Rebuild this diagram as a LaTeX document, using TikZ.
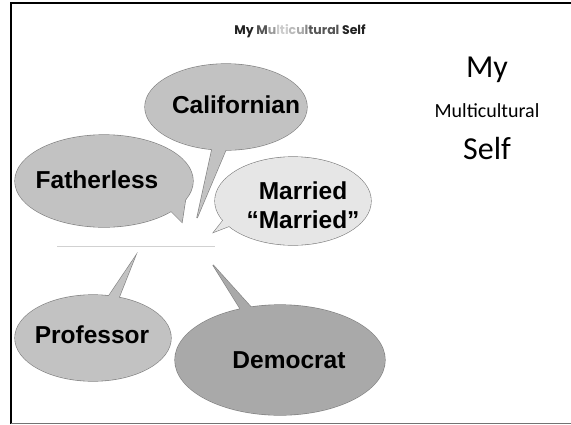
\documentclass[tikz,border=0pt]{standalone}
\usepackage{fontspec}
\setmainfont{Liberation Sans}
\newfontfamily\calibrifont{Carlito}
\newfontfamily\titlefont{Poppins}
\definecolor{bubmid}{HTML}{C2C2C2}
\definecolor{bublight}{HTML}{E6E6E6}
\definecolor{bubdark}{HTML}{A9A9A9}
\definecolor{bubline}{HTML}{7F7F7F}
\definecolor{tA}{HTML}{222222}
\definecolor{tB}{HTML}{555555}
\definecolor{tC}{HTML}{999999}
\definecolor{tD}{HTML}{CCCCCC}
\definecolor{tE}{HTML}{BBBBBB}
\definecolor{tF}{HTML}{AAAAAA}
\definecolor{tG}{HTML}{888888}
\newcommand\mycallout[7]{%
  \draw[bubline, line width=1.2pt, line join=round] #2 ellipse [x radius=#3, y radius=#4];
  \draw[bubline, line width=1.2pt, line join=miter] #5 -- #7 -- #6 -- cycle;
  \fill[#1] #2 ellipse [x radius=#3, y radius=#4];
  \fill[#1] #5 -- #7 -- #6 -- cycle;
}
\tikzset{
  bubtext/.style={font=\bfseries\fontsize{24.5}{29}\selectfont, align=center, inner sep=0pt, text=black},
  bigside/.style={font=\calibrifont\fontsize{32}{36}\selectfont, inner sep=0pt, anchor=base},
  smallside/.style={font=\calibrifont\fontsize{20}{24}\selectfont, inner sep=0pt, anchor=base}
}
\begin{document}
\begin{tikzpicture}[x=1pt,y=-1pt]
\useasboundingbox (0,0) rectangle (571,424);
\fill[white] (0,0) rectangle (571,424);
% frame
\draw[black, line width=1.6pt] (11,424) -- (11,3) -- (571,3);
\draw[black!55, line width=1pt] (11,423.5) -- (571,423.5);
% title
\node[inner sep=0pt, anchor=base, font=\titlefont\bfseries\fontsize{12.5}{14}\selectfont] (title) at (300,34)
  {{\color{tA}My }{\color{tB}M}{\color{tC}u}{\color{tD}lti}{\color{tE}c}{\color{tF}u}{\color{tG}l}{\color{tB}tural} {\color{tA}Self}};
% separator line
\draw[black!18, line width=1pt] (57,246) -- (215,246);
% bubbles
\mycallout{bubmid}{(226,107)}{81}{43}{(214,140)}{(230,140)}{(197,218)}
\mycallout{bubmid}{(104,181)}{89}{46}{(162,202)}{(186,196)}{(182,222)}
\mycallout{bublight}{(293,201)}{78}{44}{(240,222)}{(232,209)}{(214,232)}
\mycallout{bubmid}{(93,338)}{78}{43}{(104,303)}{(116,305)}{(135,257)}
\mycallout{bubdark}{(280,360)}{105}{55}{(246,318)}{(259,316)}{(213,265)}
% bubble texts
\node[bubtext] (californian) at (236,105) {Californian};
\node[bubtext] (fatherless) at (97,180) {Fatherless};
\node[bubtext] (married) at (303,205) {Married\\“Married”};
\node[bubtext] (professor) at (92,335) {Professor};
\node[bubtext] (democrat) at (289,360) {Democrat};
% side texts
\node[bigside] (sidemy) at (487,77) {My};
\node[smallside] (sidemulti) at (487,117) {Multicultural};
\node[bigside] (sideself) at (487,159) {Self};
\end{tikzpicture}
\end{document}
